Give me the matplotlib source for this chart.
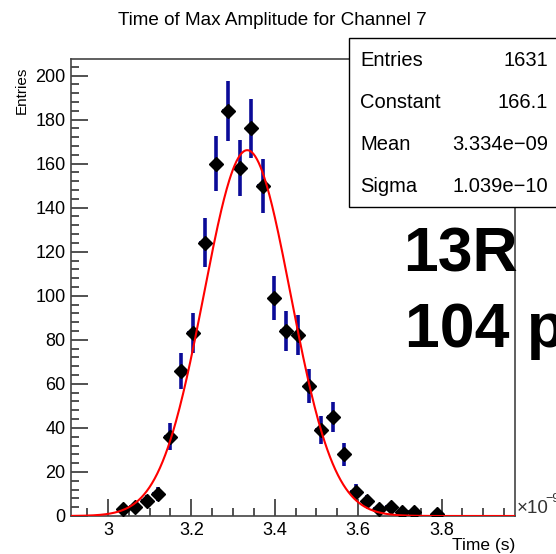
import numpy as np
import matplotlib
matplotlib.use("Agg")
from matplotlib import pyplot as plt
from matplotlib.patches import Rectangle
from matplotlib.ticker import MultipleLocator

# histogram bin centres (x 1e-9 s) and counts
bin_centers = [3.037, 3.065, 3.093, 3.120, 3.148, 3.176, 3.204, 3.232, 3.260,
               3.288, 3.316, 3.344, 3.372, 3.399, 3.427, 3.455, 3.483, 3.511,
               3.539, 3.567, 3.595, 3.622, 3.650, 3.678, 3.706, 3.734, 3.790]
counts = [3, 4, 7, 10, 36, 66, 83, 124, 160, 184, 158, 176, 150, 99, 84, 82,
          59, 39, 45, 28, 11, 7, 3, 4, 2, 2, 1]
bin_width = 0.0279

# gaussian fit parameters from the stats box
fit_constant = 166.1
fit_mean = 3.334
fit_sigma = 0.1039
stats_labels = ["Entries", "Constant", "Mean", "Sigma"]
stats_values = ["1631", "166.1", "3.334e\u221209", "1.039e\u221210"]

plt.rcParams['font.family'] = ['Liberation Sans', 'DejaVu Sans']

fig = plt.figure(figsize=(5.56, 5.54), dpi=100)
ax = fig.add_axes([0.1277, 0.0686, 0.7986, 0.8249])

x = np.array(bin_centers)
y = np.array(counts, dtype=float)
ax.errorbar(x, y, yerr=np.sqrt(y), xerr=bin_width / 2, fmt='none',
            ecolor='#0b0b98', elinewidth=2.6, capsize=0, zorder=2)
ax.plot(x, y, linestyle='none', marker='D', markersize=7.2,
        color='black', zorder=3)

xmin, xmax = 2.9115, 3.976
xf = np.linspace(xmin, xmax, 500)
ax.plot(xf, fit_constant * np.exp(-0.5 * ((xf - fit_mean) / fit_sigma) ** 2),
        color='red', linewidth=1.5, zorder=4)

ax.set_xlim(xmin, xmax)
ax.set_ylim(0, 207.5)
ax.xaxis.set_major_locator(MultipleLocator(0.2))
ax.xaxis.set_minor_locator(MultipleLocator(0.05))
ax.yaxis.set_major_locator(MultipleLocator(20))
ax.yaxis.set_minor_locator(MultipleLocator(4))
ax.set_xticks([3.0, 3.2, 3.4, 3.6, 3.8])
ax.set_xticklabels(["3", "3.2", "3.4", "3.6", "3.8"])
ax.tick_params(which='both', direction='in', top=False, right=False,
               colors='#333333', labelcolor='black', labelsize=13, width=1.2)
ax.tick_params(which='major', length=12, pad=4)
ax.tick_params(which='minor', length=6)
for s in ax.spines.values():
    s.set_color('#444444')
    s.set_linewidth(1.2)

fig.text(0.49, 0.954, "Time of Max Amplitude for Channel 7", ha='center',
         va='baseline', fontsize=13.6)
fig.text(0.04, 0.879, "Entries", rotation=90, ha='center', va='top',
         fontsize=11)
fig.text(0.926, 0.002, "Time (s)", ha='right', va='bottom', fontsize=12.5)
# axis exponent, cut at the right edge like the original
fig.text(0.929, 0.066, "\u00d710", ha='left', va='bottom',
         fontsize=13.5, color='#333333')
fig.text(0.981, 0.088, "\u22129", ha='left', va='bottom',
         fontsize=9, color='#333333')

# stats box
box = Rectangle((0.6277, 0.6264), 0.40, 0.305, transform=fig.transFigure,
                facecolor='white', edgecolor='black', linewidth=1.0, zorder=10)
fig.add_artist(box)
for i, (lab, val) in enumerate(zip(stats_labels, stats_values)):
    yy = 0.891 - i * 0.0758
    fig.text(0.648, yy, lab, ha='left', va='center', fontsize=14.5, zorder=11)
    fig.text(0.9856, yy, val, ha='right', va='center', fontsize=14.5, zorder=11)

fig.text(0.725, 0.5096, "13R", ha='left', va='baseline', fontsize=45,
         fontweight='bold', zorder=12)
fig.text(0.728, 0.374, "104 p", ha='left', va='baseline', fontsize=45,
         fontweight='bold', zorder=12)

fig.savefig("out.png", dpi=100)
